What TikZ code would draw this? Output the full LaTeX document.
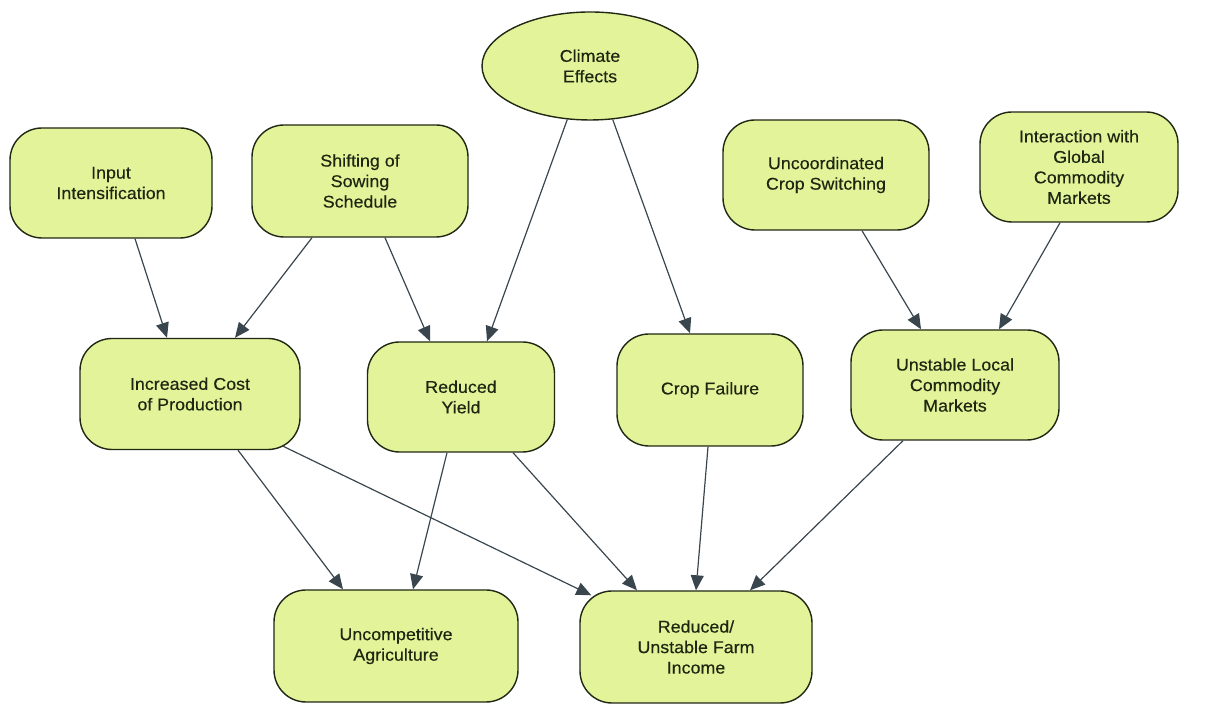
\documentclass[tikz,border=0pt]{standalone}
\usepackage{fontspec}
\setmainfont{Liberation Sans}[FakeStretch=1.05,FakeBold=0.3]
\usetikzlibrary{arrows.meta,shapes.geometric}

\definecolor{boxfill}{RGB}{226,243,153}
\definecolor{boxline}{RGB}{32,40,20}
\definecolor{textcol}{RGB}{28,38,16}
\definecolor{arrowcol}{RGB}{58,70,78}

\begin{document}
\begin{tikzpicture}[x=1pt,y=1pt]
        \tikzstyle{every node}=[font=\fontsize{17}{20.5}\selectfont,text=textcol,align=center,inner sep=0pt]
        \tikzstyle{box}=[draw=boxline,line width=1.4pt,fill=boxfill,rounded corners=32pt]
        \tikzstyle{link}=[draw=arrowcol,line width=1.2pt,-{Triangle[length=15pt,width=13pt]}]
        \useasboundingbox (0,0) rectangle (1214,708);

        % climate effects
        \node[box,ellipse,minimum width=216pt,minimum height=108pt] (climate) at (590,642) {Climate\\Effects};

        % top row
        \node[box,minimum width=202pt,minimum height=110pt] (input) at (111,525) {Input\\Intensification};
        \node[box,minimum width=216pt,minimum height=112pt] (sowing) at (360,527) {Shifting of\\Sowing\\Schedule};
        \node[box,minimum width=206pt,minimum height=110pt] (switching) at (826,533) {Uncoordinated\\Crop Switching};
        \node[box,minimum width=198pt,minimum height=110pt] (global) at (1079,541) {Interaction with\\Global\\Commodity\\Markets};

        % middle row
        \node[box,minimum width=220pt,minimum height=111pt] (cost) at (190,314) {Increased Cost\\of Production};
        \node[box,minimum width=187pt,minimum height=110pt] (yield) at (461,311) {Reduced\\Yield};
        \node[box,minimum width=186pt,minimum height=112pt] (failure) at (710,318) {Crop Failure};
        \node[box,minimum width=208pt,minimum height=110pt] (local) at (955,323) {Unstable Local\\Commodity\\Markets};

        % outcomes
        \node[box,minimum width=244pt,minimum height=112pt] (uncomp) at (396,62) {Uncompetitive\\Agriculture};
        \node[box,minimum width=232pt,minimum height=112pt] (income) at (696,61) {Reduced/\\Unstable Farm\\Income};

        % causes into middle row
        \draw[link] ([xshift=24pt]input.south) -- ([xshift=-23pt]cost.north);
        \draw[link] ([xshift=-48pt]sowing.south) -- ([xshift=45pt]cost.north);
        \draw[link] ([xshift=25pt]sowing.south) -- ([xshift=-31pt]yield.north);
        \draw[link] (climate.-113) -- ([xshift=26pt]yield.north);
        \draw[link] (climate.-67) -- ([xshift=-20pt]failure.north);
        \draw[link] ([xshift=36pt]switching.south) -- ([xshift=-34pt]local.north);
        \draw[link] ([xshift=-19pt]global.south) -- ([xshift=44pt]local.north);

        % middle row into outcomes
        \draw[link] ([xshift=48pt]cost.south) -- ([xshift=-53pt]uncomp.north);
        \draw[link] ([xshift=93pt,yshift=4pt]cost.south) -- ([xshift=12pt,yshift=-5pt]income.north west);
        \draw[link] ([xshift=-14pt]yield.south) -- ([xshift=17pt]uncomp.north);
        \draw[link] ([xshift=52pt]yield.south) -- ([xshift=-59pt]income.north);
        \draw[link] ([xshift=-2pt]failure.south) -- (income.north);
        \draw[link] ([xshift=-52pt]local.south) -- ([xshift=54pt]income.north);

    \end{tikzpicture}
\end{document}
